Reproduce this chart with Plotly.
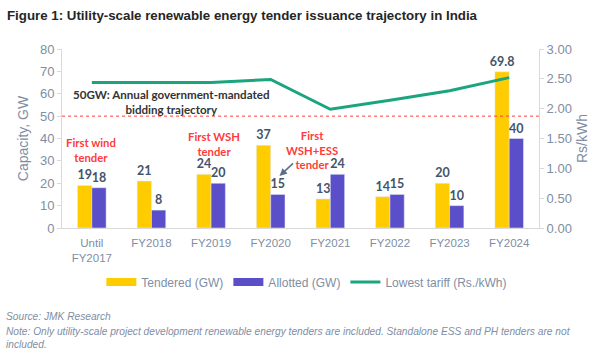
import plotly.graph_objects as go

categories = ["Until<br>FY2017", "FY2018", "FY2019", "FY2020", "FY2021", "FY2022", "FY2023", "FY2024"]
tendered = [19, 21, 24, 37, 13, 14, 20, 69.8]
allotted = [18, 8, 20, 15, 24, 15, 10, 40]
tariff = [2.44, 2.44, 2.44, 2.49, 1.99, 2.14, 2.30, 2.52]
mandate_gw = 50

AX = "#7F8EA3"
LBL = "#44546A"
GOLD = "#FFCC00"
PURPLE = "#5B4FC9"
GREEN = "#1BA57E"

L, R, T, B = 62, 49, 49, 124
PW, PH = 600 - L - R, 352 - T - B


def xp(px):
    return (px - L) / PW


def yp(py):
    return (352 - B - py) / PH


fig = go.Figure()
fig.add_trace(go.Bar(
    x=categories, y=tendered, name="Tendered (GW)", marker_color=GOLD, showlegend=False,
    text=[f"{v:g}" for v in tendered], textposition="outside", constraintext="none",
    textfont=dict(family="Lato", size=12.5, color=LBL, weight="bold"), cliponaxis=False,
))
fig.add_trace(go.Bar(
    x=categories, y=allotted, name="Allotted (GW)", marker_color=PURPLE, showlegend=False,
    text=[f"{v:g}" for v in allotted], textposition="outside", constraintext="none",
    textfont=dict(family="Lato", size=12.5, color=LBL, weight="bold"), cliponaxis=False,
))
fig.add_trace(go.Scatter(
    x=categories, y=tariff, name="Lowest tariff (Rs./kWh)", mode="lines",
    line=dict(color=GREEN, width=3), yaxis="y2", showlegend=False,
))
# legend entries (styled like the reference's wide swatches)
fig.add_trace(go.Scatter(x=[None], y=[None], mode="lines", name="Tendered (GW)",
                         line=dict(color=GOLD, width=8)))
fig.add_trace(go.Scatter(x=[None], y=[None], mode="lines", name="Allotted (GW)",
                         line=dict(color=PURPLE, width=8)))
fig.add_trace(go.Scatter(x=[None], y=[None], mode="lines", name="Lowest tariff (Rs./kWh)",
                         line=dict(color=GREEN, width=3)))

fig.add_shape(type="line", xref="paper", yref="y", x0=0, x1=1, y0=mandate_gw, y1=mandate_gw,
              line=dict(color="#FF3B3B", width=1, dash="dot"))

fig.update_layout(
    width=600, height=352,
    margin=dict(l=L, r=R, t=T, b=B),
    paper_bgcolor="white", plot_bgcolor="white",
    barmode="group", bargap=0.52, bargroupgap=0,
    font=dict(family="Liberation Sans", size=12, color=AX),
    showlegend=True,
    legend=dict(orientation="h", x=xp(313), xanchor="center", y=yp(282), yanchor="middle",
                font=dict(family="Liberation Sans", size=12, color=AX), traceorder="normal",
                itemwidth=30, tracegroupgap=0),
    xaxis=dict(showline=True, linecolor="#D9D9D9", ticks="", tickfont=dict(size=11.5, color=AX),
               showgrid=False, ticklabelstandoff=4),
    yaxis=dict(range=[0, 80], dtick=10, showgrid=False, showline=True, linecolor="#D9D9D9",
               ticks="outside", ticklen=4, tickcolor="#D9D9D9", zeroline=False,
               tickfont=dict(size=13, color=AX),
               title=dict(text="Capacity, GW", font=dict(size=14, color=AX), standoff=8)),
    yaxis2=dict(range=[0, 3], dtick=0.5, tickformat=".2f", overlaying="y", side="right",
                showgrid=False, showline=True, linecolor="#D9D9D9", ticks="outside", ticklen=4,
                tickcolor="#D9D9D9", zeroline=False, tickfont=dict(size=13, color=AX),
                title=dict(text="Rs/kWh", font=dict(size=14, color=AX), standoff=6)),
)

fig.add_annotation(text="<b>Figure 1: Utility-scale renewable energy tender issuance trajectory in India</b>",
                   xref="paper", yref="paper", x=xp(4), xanchor="left", y=yp(16), yanchor="middle",
                   showarrow=False, font=dict(family="Liberation Sans", size=13.3, color="#262626"))

fig.add_annotation(text="<b>50GW: Annual government-mandated<br>bidding trajectory</b>",
                   xref="paper", yref="paper", x=xp(174), xanchor="center", y=yp(102), yanchor="middle",
                   showarrow=False, font=dict(family="Lato", size=11.6, color="#333333"), align="center")

red = dict(family="Lato", size=11.3, color="#FF3B3B", weight="bold")
fig.add_annotation(text="First wind<br>tender", xref="paper", yref="paper", x=xp(92), xanchor="center",
                   y=yp(150), yanchor="middle", showarrow=False, font=red, align="center")
fig.add_annotation(text="First WSH<br>tender", xref="paper", yref="paper", x=xp(218), xanchor="center",
                   y=yp(144), yanchor="middle", showarrow=False, font=red, align="center")
fig.add_annotation(text="First<br>WSH+ESS<br>tender", xref="paper", yref="paper", x=xp(318), xanchor="center",
                   y=yp(150), yanchor="middle", showarrow=False, font=red, align="center")
fig.add_annotation(x=xp(285), y=yp(176), ax=15, ay=-14,
                   xref="paper", yref="paper", text="",
                   showarrow=True, arrowhead=2, arrowsize=1, arrowwidth=1.5, arrowcolor="#5A6E8C")

note_font = dict(family="Liberation Sans", size=10.2, color=AX)
fig.add_annotation(text="<i>Source: JMK Research</i>", xref="paper", yref="paper",
                   x=xp(3), xanchor="left", y=yp(316), yanchor="middle", showarrow=False,
                   font=note_font)
fig.add_annotation(text="<i>Note: Only utility-scale project development renewable energy tenders are included. Standalone ESS and PH tenders are not</i>",
                   xref="paper", yref="paper", x=xp(3), xanchor="left", y=yp(331),
                   yanchor="middle", showarrow=False, align="left", font=note_font)
fig.add_annotation(text="<i>included.</i>",
                   xref="paper", yref="paper", x=xp(3), xanchor="left", y=yp(344),
                   yanchor="middle", showarrow=False, align="left", font=note_font)

fig.write_html("out.html")
